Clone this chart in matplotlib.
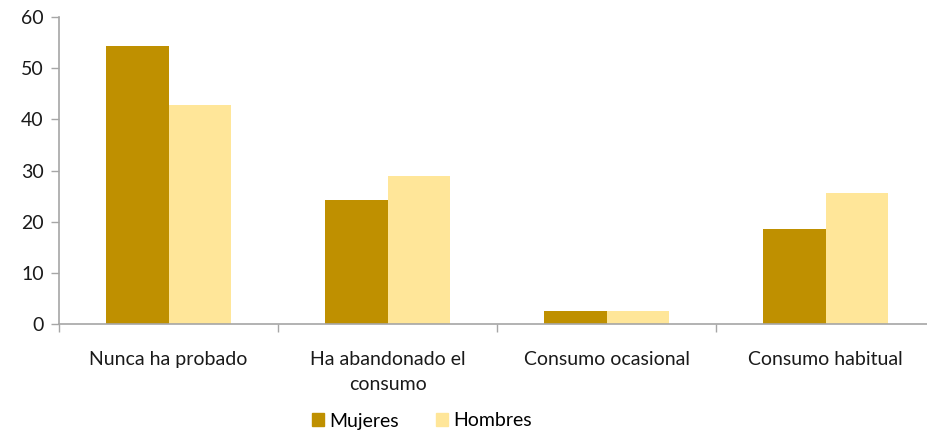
import numpy as np
import matplotlib.pyplot as plt
from matplotlib.patches import Patch

# data
categories = ["Nunca ha probado", "Ha abandonado el\nconsumo",
              "Consumo ocasional", "Consumo habitual"]
mujeres = [54.4, 24.2, 2.5, 18.6]
hombres = [42.9, 28.9, 2.5, 25.5]
series_names = ["Mujeres", "Hombres"]
colors = ["#BF9000", "#FFE699"]

plt.rcParams['font.family'] = ['Lato', 'DejaVu Sans']
fs = 14

fig = plt.figure(figsize=(9.27, 4.34), dpi=100)
ax = fig.add_axes([59/927, 1 - 323.7/434, 1 - 59/927, (323.7 - 17.3)/434])

x = np.arange(len(categories))
w = 0.285
ax.bar(x - w/2, mujeres, w, color=colors[0], label=series_names[0])
ax.bar(x + w/2, hombres, w, color=colors[1], label=series_names[1])

ax.set_ylim(0, 60)
ax.set_xlim(-0.5, -0.5 + (927 - 59)/219)
ax.set_yticks(range(0, 61, 10))

# boundary ticks between categories, labels centered as minor ticks
ax.set_xticks(np.arange(len(categories)) - 0.5)
ax.set_xticklabels([])
ax.set_xticks(x, minor=True)
ax.set_xticklabels(categories, minor=True, fontsize=fs, color="#1a1a1a",
                   linespacing=1.55)
ax.tick_params(axis='x', which='minor', length=0, pad=20)
ax.tick_params(axis='x', which='major', length=6, color="#A6A6A6", width=1)
ax.tick_params(axis='y', length=6, color="#A6A6A6", width=1,
               labelsize=fs, labelcolor="#1a1a1a", pad=5)

for s in ["top", "right"]:
    ax.spines[s].set_visible(False)
for s in ["left", "bottom"]:
    ax.spines[s].set_color("#A6A6A6")
    ax.spines[s].set_linewidth(1.2)

handles = [Patch(color=c) for c in colors]
fig.legend(handles, series_names, loc="center", bbox_to_anchor=(422/927, 1 - 421/434),
           ncol=2, frameon=False, fontsize=fs, handlelength=0.6, handleheight=0.6,
           handletextpad=0.3, columnspacing=1.9)

fig.savefig("out.png", dpi=100)
